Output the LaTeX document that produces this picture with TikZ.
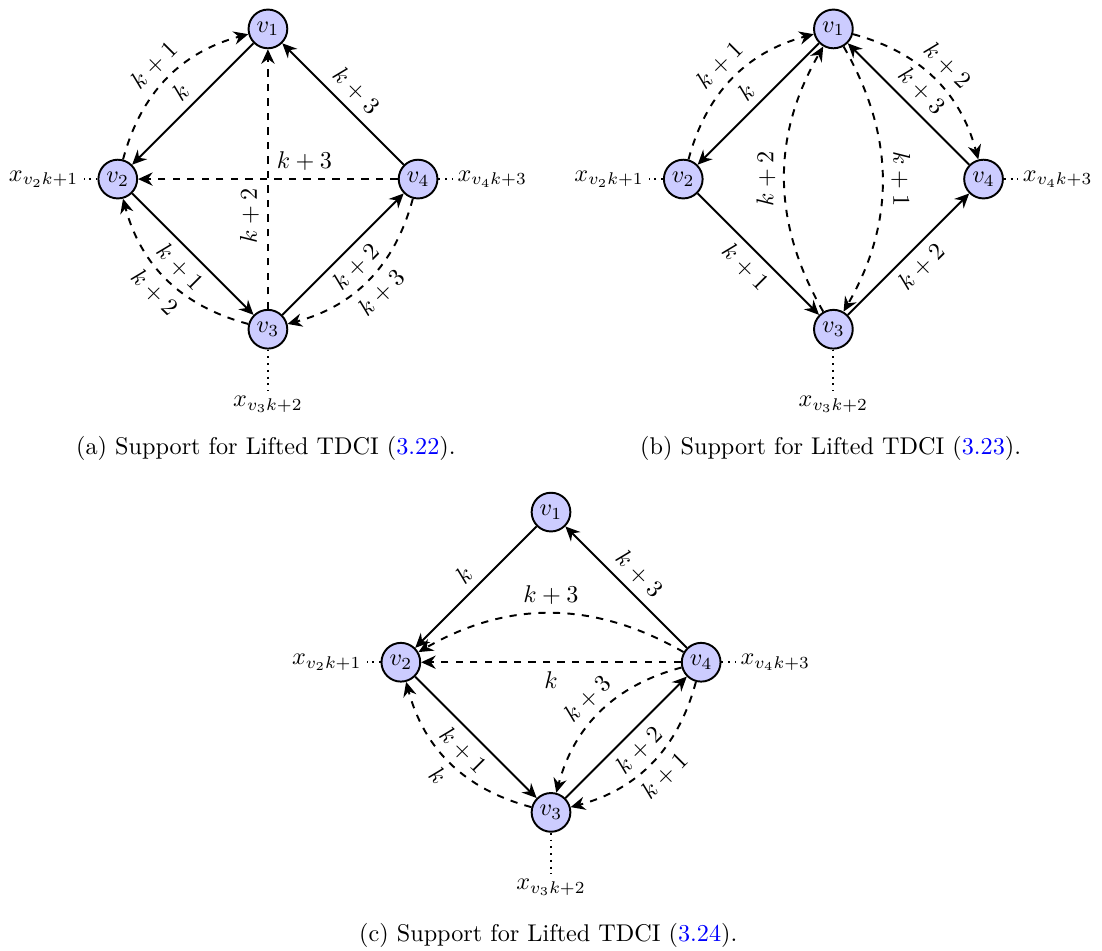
\documentclass[tikz,border=0pt]{standalone}
\usepackage{xcolor}
\usepackage{tikz}
\usetikzlibrary{arrows.meta,positioning}

\begin{document}
\begin{tikzpicture}[
  vertex/.style={circle, draw=black, fill=blue!20, thick, inner sep=1pt, minimum size=16pt},
  edge/.style={-{Stealth[length=6pt,width=5.5pt,inset=2pt]}, thick},
  dedge/.style={edge, dashed},
  dots/.style={dotted, thick},
  xlabel/.style={inner sep=2pt}
]
\useasboundingbox (0,0) rectangle (16.0,-13.8);

% (a)
\begin{scope}[shift={(3.89,-2.60)}]
\node[vertex] (a1) at (0,2.18) {$v_1$};
\node[vertex] (a2) at (-2.18,0) {$v_2$};
\node[vertex] (a3) at (0,-2.18) {$v_3$};
\node[vertex] (a4) at (2.18,0) {$v_4$};
\node[xlabel, left=2mm of a2] (xa2) {$x_{v_2k+1}$};
\node[xlabel, right=2mm of a4] (xa4) {$x_{v_4k+3}$};
\node[xlabel, below=6mm of a3] (xa3) {$x_{v_3k+2}$};
\draw[dots] (a2) -- (xa2);
\draw[dots] (a4) -- (xa4);
\draw[dots] (a3) -- (xa3);

\draw[edge] (a1) -- node[sloped, above] {$k$} (a2);
\draw[edge] (a2) -- node[sloped, below] {$k+1$} (a3);
\draw[edge] (a3) -- node[sloped, below] {$k+2$} (a4);
\draw[edge] (a4) -- node[sloped, above] {$k+3$} (a1);
\draw[dedge] (a2) to[bend left=30] node[sloped, above] {$k+1$} (a1);
\draw[dedge] (a3) to[bend left=30] node[sloped, below] {$k+2$} (a2);
\draw[dedge] (a4) to[bend left=30] node[sloped, below] {$k+3$} (a3);
\draw[dedge] (a4) -- node[above right] {$k+3$} (a2);
\draw[dedge] (a3) -- node[rotate=90, anchor=south east] {$k+2$} (a1);
\end{scope}
\node (capa) at (3.86,-6.51) {(a) Support for Lifted TDCI (\textcolor{blue}{3.22}).};

% (b)
\begin{scope}[shift={(12.10,-2.60)}]
\node[vertex] (b1) at (0,2.18) {$v_1$};
\node[vertex] (b2) at (-2.18,0) {$v_2$};
\node[vertex] (b3) at (0,-2.18) {$v_3$};
\node[vertex] (b4) at (2.18,0) {$v_4$};
\node[xlabel, left=2mm of b2] (xb2) {$x_{v_2k+1}$};
\node[xlabel, right=2mm of b4] (xb4) {$x_{v_4k+3}$};
\node[xlabel, below=6mm of b3] (xb3) {$x_{v_3k+2}$};
\draw[dots] (b2) -- (xb2);
\draw[dots] (b4) -- (xb4);
\draw[dots] (b3) -- (xb3);

\draw[edge] (b1) -- node[sloped, above] {$k$} (b2);
\draw[edge] (b2) -- node[sloped, below] {$k+1$} (b3);
\draw[edge] (b3) -- node[sloped, below] {$k+2$} (b4);
\draw[edge] (b4) -- node[sloped, above] {$k+3$} (b1);
\draw[dedge] (b2) to[bend left=30] node[sloped, above] {$k+1$} (b1);
\draw[dedge] (b1) to[bend left=30] node[sloped, above] {$k+2$} (b4);
\draw[dedge] (b3) to[bend left=30] node[rotate=90, anchor=south] {$k+2$} (b1);
\draw[dedge] (b1) to[bend left=30] node[rotate=-90, anchor=south] {$k+1$} (b3);
\end{scope}
\node (capb) at (12.06,-6.51) {(b) Support for Lifted TDCI (\textcolor{blue}{3.23}).};

% (c)
\begin{scope}[shift={(8.00,-9.615)}]
\node[vertex] (c1) at (0,2.18) {$v_1$};
\node[vertex] (c2) at (-2.18,0) {$v_2$};
\node[vertex] (c3) at (0,-2.18) {$v_3$};
\node[vertex] (c4) at (2.18,0) {$v_4$};
\node[xlabel, left=2mm of c2] (xc2) {$x_{v_2k+1}$};
\node[xlabel, right=2mm of c4] (xc4) {$x_{v_4k+3}$};
\node[xlabel, below=6mm of c3] (xc3) {$x_{v_3k+2}$};
\draw[dots] (c2) -- (xc2);
\draw[dots] (c4) -- (xc4);
\draw[dots] (c3) -- (xc3);

\draw[edge] (c1) -- node[sloped, above] {$k$} (c2);
\draw[edge] (c2) -- node[sloped, below] {$k+1$} (c3);
\draw[edge] (c3) -- node[sloped, below] {$k+2$} (c4);
\draw[edge] (c4) -- node[sloped, above] {$k+3$} (c1);
\draw[dedge] (c4) -- node[below] {$k$} (c2);
\draw[dedge] (c4) to[bend right=30] node[above] {$k+3$} (c2);
\draw[dedge] (c3) to[bend left=30] node[sloped, below] {$k$} (c2);
\draw[dedge] (c4) to[bend left=30] node[sloped, below] {$k+1$} (c3);
\draw[dedge] (c4) to[bend right=30] node[sloped, above] {$k+3$} (c3);
\end{scope}
\node (capc) at (7.96,-13.58) {(c) Support for Lifted TDCI (\textcolor{blue}{3.24}).};
\end{tikzpicture}
\end{document}
